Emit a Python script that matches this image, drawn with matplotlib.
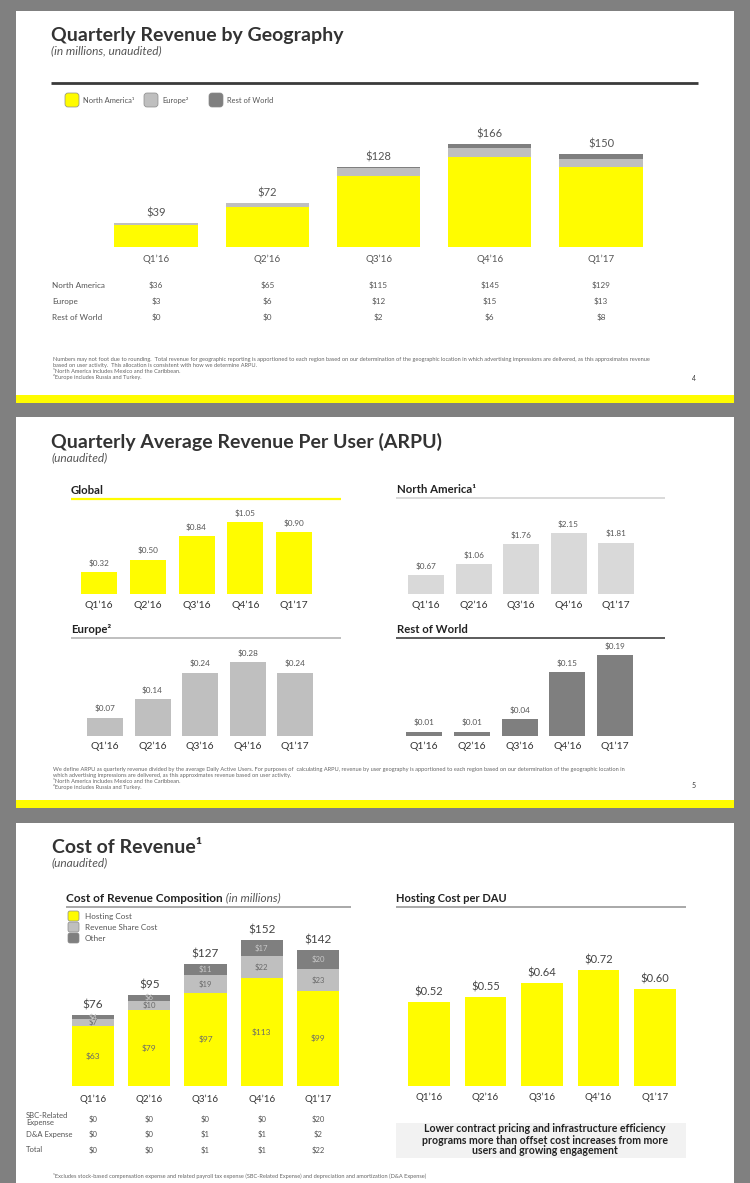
import matplotlib
matplotlib.use('Agg')
import matplotlib.pyplot as plt
from matplotlib.patches import Rectangle, FancyBboxPatch
from matplotlib import transforms

FAM = ['Lato', 'DejaVu Sans']
plt.rcParams['font.family'] = FAM

W, H = 750, 1183

# ---------------- data ----------------
quarters = ["Q1’16", "Q2’16", "Q3’16", "Q4’16", "Q1’17"]

rev_na = [36, 65, 115, 145, 129]
rev_eu = [3, 6, 12, 15, 13]
rev_row = [0, 0, 2, 6, 8]
rev_total = [39, 72, 128, 166, 150]
rev_rows = ["North America", "Europe", "Rest of World"]

arpu_global = [0.32, 0.50, 0.84, 1.05, 0.90]
arpu_na = [0.67, 1.06, 1.76, 2.15, 1.81]
arpu_eu = [0.07, 0.14, 0.24, 0.28, 0.24]
arpu_row = [0.01, 0.01, 0.04, 0.15, 0.19]

cost_hosting = [63, 79, 97, 113, 99]
cost_revshare = [7, 10, 19, 22, 23]
cost_other = [4, 6, 11, 17, 20]
cost_total = [76, 95, 127, 152, 142]
sbc_exp = [0, 0, 0, 0, 20]
dna_exp = [0, 0, 1, 1, 2]
adj_total = [0, 0, 1, 1, 22]
hosting_per_dau = [0.52, 0.55, 0.64, 0.72, 0.60]

YEL = '#FFFC00'
LG = '#BFBFBF'
LLG = '#D9D9D9'
DG = '#7F7F7F'
TXT = '#3a3a3a'
MID = '#555555'

fig = plt.figure(figsize=(7.5, 11.83), dpi=100, facecolor='#808080')
bg = fig.add_axes([0, 0, 1, 1])
bg.set_xlim(0, W)
bg.set_ylim(H, 0)
bg.axis('off')


def rect(x0, y0, x1, y1, color, z=0):
    bg.add_patch(Rectangle((x0, y0), x1 - x0, y1 - y0, facecolor=color,
                           edgecolor='none', zorder=z))


def txt(x, y, s, size, color=TXT, weight='normal', style='normal',
        ha='left', va='center', **kw):
    return bg.text(x, y, s, fontsize=size, color=color, fontweight=weight,
                   fontstyle=style, ha=ha, va=va, **kw)


def hline(x0, x1, y, color, lw):
    bg.plot([x0, x1], [y, y], color=color, lw=lw, solid_capstyle='butt')


def chart(xc0, dx, ybot, scale, top_px=150):
    left = xc0 - dx / 2
    ax = fig.add_axes([left / W, 1 - ybot / H, 5 * dx / W, top_px / H])
    ax.set_xlim(-0.5, 4.5)
    ax.set_ylim(0, top_px / scale)
    ax.axis('off')
    ax.patch.set_alpha(0)
    return ax


def row_text(ax, py, labels, size, color=MID, **kw):
    tr = transforms.blended_transform_factory(ax.transData, fig.transFigure)
    for i, s in enumerate(labels):
        ax.text(i, 1 - py / H, s, transform=tr, ha='center', va='center',
                fontsize=size, color=color, **kw)


def top_labels(ax, tops, labels, size, off_px, color=MID):
    for i, (v, s) in enumerate(zip(tops, labels)):
        ax.annotate(s, (i, v), xytext=(0, off_px * 0.72), textcoords='offset points',
                    ha='center', va='center', fontsize=size, color=color)


x = list(range(5))

# ---------------- slides background ----------------
rect(16, 11, 734, 403, 'white')
rect(16, 395, 734, 403, YEL, 1)
rect(16, 417, 734, 808, 'white')
rect(16, 800, 734, 808, YEL, 1)
rect(16, 823, 734, 1183, 'white')

# ================= Slide 1 =================
txt(51, 35, 'Quarterly Revenue by Geography', 14, color='#333333', weight='bold')
txt(51, 51, '(in millions, unaudited)', 8.6, color=MID, style='italic')
hline(51, 698, 83, '#3a3a3a', 2.0)

leg = [(65, YEL, 'North America¹'), (144, LG, 'Europe²'), (209, DG, 'Rest of World')]
for lx, c, lab in leg:
    bg.add_patch(FancyBboxPatch((lx, 93), 14, 14, boxstyle='round,pad=0,rounding_size=3',
                                facecolor=c, edgecolor='#8a8a8a', lw=0.5))
    txt(lx + 18, 100, lab, 5.4, color=MID)

ax1 = chart(156, 111.25, 247, 0.62, 120)
b2 = [a + b for a, b in zip(rev_na, rev_eu)]
b3 = [a + b for a, b in zip(b2, rev_row)]
ax1.bar(x, rev_na, width=0.75, color=YEL)
ax1.bar(x, rev_eu, width=0.75, bottom=rev_na, color=LG)
ax1.bar(x, rev_row, width=0.75, bottom=b2, color=DG)
top_labels(ax1, b3, [f'${v}' for v in rev_total], 8, 10)
row_text(ax1, 259, quarters, 7)
for ry, name, vals in zip([285, 301, 317], rev_rows, [rev_na, rev_eu, rev_row]):
    txt(52, ry, name, 5.9, color=MID)
    row_text(ax1, ry, [f'${v}' for v in vals], 5.9)

fn1 = ["Numbers may not foot due to rounding.  Total revenue for geographic reporting is apportioned to each region based on our determination of the geographic location in which advertising impressions are delivered, as this approximates revenue",
       "based on user activity.  This allocation is consistent with how we determine ARPU.",
       "¹North America includes Mexico and the Caribbean.",
       "²Europe includes Russia and Turkey."]
for k, s in enumerate(fn1):
    txt(53, 359 + 6 * k, s, 4.1, color='#666666')
txt(696, 378, '4', 5, color=TXT, ha='right')

# ================= Slide 2 =================
txt(51, 442, 'Quarterly Average Revenue Per User (ARPU)', 14, color='#333333', weight='bold')
txt(51, 458, '(unaudited)', 8.6, color=MID, style='italic')

txt(71, 490, 'Global', 8.2, color='#222222', weight='bold')
hline(71, 341, 499, YEL, 1.6)
txt(397, 489, 'North America¹', 8.2, color='#222222', weight='bold')
hline(396, 665, 498, LLG, 1.4)
txt(71, 629, 'Europe²', 8.2, color='#222222', weight='bold')
hline(71, 341, 638, LG, 1.4)
txt(397, 629, 'Rest of World', 8.2, color='#222222', weight='bold')
hline(396, 665, 638, '#404040', 1.2)

panels = [
    (99, 48.75, 594, 68.6, arpu_global, YEL, 605),
    (426, 47.5, 594, 28.4, arpu_na, LLG, 605),
    (105, 47.5, 736, 264, arpu_eu, LG, 746),
    (424, 47.75, 736, 426, arpu_row, DG, 746),
]
for xc0, dx, yb, sc, vals, col, cy in panels:
    ax = chart(xc0, dx, yb, sc, 100)
    ax.bar(x, vals, width=36 / dx, color=col)
    top_labels(ax, vals, [f'${v:.2f}' for v in vals], 5.9, 9)
    row_text(ax, cy, quarters, 7.5, color='#333333')

fn2 = ["We define ARPU as quarterly revenue divided by the average Daily Active Users. For purposes of  calculating ARPU, revenue by user geography is apportioned to each region based on our determination of the geographic location in",
       "which advertising impressions are delivered, as this approximates revenue based on user activity.",
       "¹North America includes Mexico and the Caribbean.",
       "²Europe includes Russia and Turkey."]
for k, s in enumerate(fn2):
    txt(53, 769 + 6 * k, s, 4.05, color='#666666')
txt(696, 785, '5', 5, color=TXT, ha='right')

# ================= Slide 3 =================
txt(52, 847, 'Cost of Revenue¹', 14, color='#333333', weight='bold')
txt(51, 863, '(unaudited)', 8.6, color=MID, style='italic')

t1 = txt(66, 898, 'Cost of Revenue Composition', 8.5, color='#222222', weight='bold')
bg.annotate(' (in millions)', xy=(1, 0.5), xycoords=t1, ha='left', va='center',
            fontsize=8.5, color=MID, fontstyle='italic')
hline(66, 351, 907, '#999999', 1.2)
txt(396, 898, 'Hosting Cost per DAU', 8, color='#222222', weight='bold')
hline(396, 686, 907, '#999999', 1.2)

for k, (c, lab) in enumerate([(YEL, 'Hosting Cost'), (LG, 'Revenue Share Cost'), (DG, 'Other')]):
    yy = 916 + 11 * k
    bg.add_patch(FancyBboxPatch((68, yy - 5), 11, 10, boxstyle='round,pad=0,rounding_size=2',
                                facecolor=c, edgecolor='#8a8a8a', lw=0.5))
    txt(85, yy, lab, 5.9, color=MID)

ax5 = chart(93, 56.25, 1086, 0.96, 170)
c2 = [a + b for a, b in zip(cost_hosting, cost_revshare)]
c3 = [a + b for a, b in zip(c2, cost_other)]
ax5.bar(x, cost_hosting, width=0.75, color=YEL)
ax5.bar(x, cost_revshare, width=0.75, bottom=cost_hosting, color=LG)
ax5.bar(x, cost_other, width=0.75, bottom=c2, color=DG)
for i in x:
    ax5.text(i, cost_hosting[i] / 2, f'${cost_hosting[i]}', ha='center', va='center',
             fontsize=6, color='#6a6a6a')
    ax5.text(i, cost_hosting[i] + cost_revshare[i] / 2, f'${cost_revshare[i]}',
             ha='center', va='center', fontsize=5.6, color='#6a6a6a')
    ax5.text(i, c2[i] + cost_other[i] / 2, f'${cost_other[i]}', ha='center', va='center',
             fontsize=5.6, color='#c8c8c8')
top_labels(ax5, c3, [f'${v}' for v in cost_total], 8.5, 10, color='#444444')
row_text(ax5, 1099, quarters, 7, color='#333333')

txt(26, 1115, 'SBC-Related', 5.5, color=MID)
txt(26, 1123, 'Expense', 5.5, color=MID)
txt(26, 1134, 'D&A Expense', 5.5, color=MID)
txt(26, 1150, 'Total', 5.5, color=MID)
row_text(ax5, 1119, [f'${v}' for v in sbc_exp], 5.5)
row_text(ax5, 1134, [f'${v}' for v in dna_exp], 5.5)
row_text(ax5, 1150, [f'${v}' for v in adj_total], 5.5)

ax6 = chart(429, 56.5, 1086, 161, 150)
ax6.bar(x, hosting_per_dau, width=0.74, color=YEL)
top_labels(ax6, hosting_per_dau, [f'${v:.2f}' for v in hosting_per_dau], 8, 10, color='#444444')
row_text(ax6, 1097, quarters, 7, color='#333333')

rect(396, 1123, 686, 1158, '#F2F2F2')
txt(545, 1140, 'Lower contract pricing and infrastructure efficiency\nprograms more than offset cost increases from more\nusers and growing engagement',
    7.6, color='#222222', weight='bold', ha='center', linespacing=1.0)

txt(53, 1176, '¹Excludes stock-based compensation expense and related payroll tax expense (SBC-Related Expense) and depreciation and amortization (D&A Expense)',
    4.1, color='#666666')

fig.savefig('out.png', dpi=100, facecolor=fig.get_facecolor())
